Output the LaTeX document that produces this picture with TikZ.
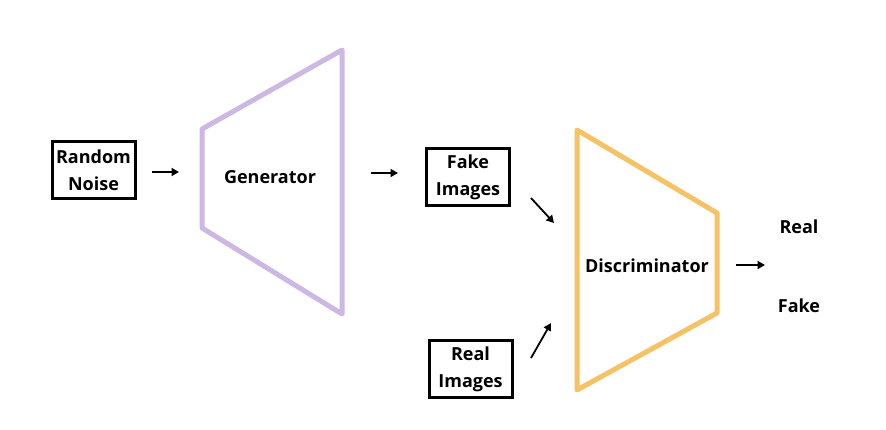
\documentclass[tikz,border=0pt]{standalone}
\usepackage{fontspec}
\setmainfont{Open Sans}
\usetikzlibrary{arrows.meta}
\definecolor{genpurple}{RGB}{205,183,227}
\definecolor{discorange}{RGB}{245,194,102}
\begin{document}
\begin{tikzpicture}[x=1pt,y=-1pt,
  lbl/.style={font=\bfseries\fontsize{18}{27}\selectfont, align=center, inner sep=0pt},
  box/.style={lbl, draw=black, line width=3pt, minimum width=83pt, minimum height=57pt},
  arr/.style={line width=1.8pt, -{Triangle[length=7.5pt,width=8pt]}},
  trap/.style={line width=5pt, line join=round, line cap=round}
]
\useasboundingbox (0,0) rectangle (886,430);
% Generator
\coordinate (g1) at (202,129);
\coordinate (g2) at (342,50);
\coordinate (g3) at (342,314);
\coordinate (g4) at (202,228);
\draw[trap, draw=genpurple] (g1) -- (g2) -- (g3) -- (g4) -- cycle;
\node[lbl] (gen) at (270,177) {Generator};
% Discriminator
\coordinate (d1) at (577,130);
\coordinate (d2) at (717,213);
\coordinate (d3) at (717,313);
\coordinate (d4) at (577,390);
\draw[trap, draw=discorange] (d1) -- (d2) -- (d3) -- (d4) -- cycle;
\node[lbl] (disc) at (647,266) {Discriminator};
% Boxes
\node[box] (noise) at (93.5,170.5) {Random\\Noise};
\node[box] (fake) at (468,177.5) {Fake\\Images};
\node[box] (real) at (470.5,369) {Real\\Images};
% Outputs
\node[lbl] (outreal) at (799,227) {Real};
\node[lbl] (outfake) at (799,306) {Fake};
% Arrows
\coordinate (a1s) at (152,172); \coordinate (a1e) at (179,172);
\coordinate (a2s) at (371,173); \coordinate (a2e) at (398,173);
\coordinate (a3s) at (531,198); \coordinate (a3e) at (554,223);
\coordinate (a4s) at (531,358); \coordinate (a4e) at (551,323);
\coordinate (a5s) at (736,265); \coordinate (a5e) at (765,265);
\draw[arr] (a1s) -- (a1e);
\draw[arr] (a2s) -- (a2e);
\draw[arr] (a3s) -- (a3e);
\draw[arr] (a4s) -- (a4e);
\draw[arr] (a5s) -- (a5e);
\end{tikzpicture}
\end{document}
